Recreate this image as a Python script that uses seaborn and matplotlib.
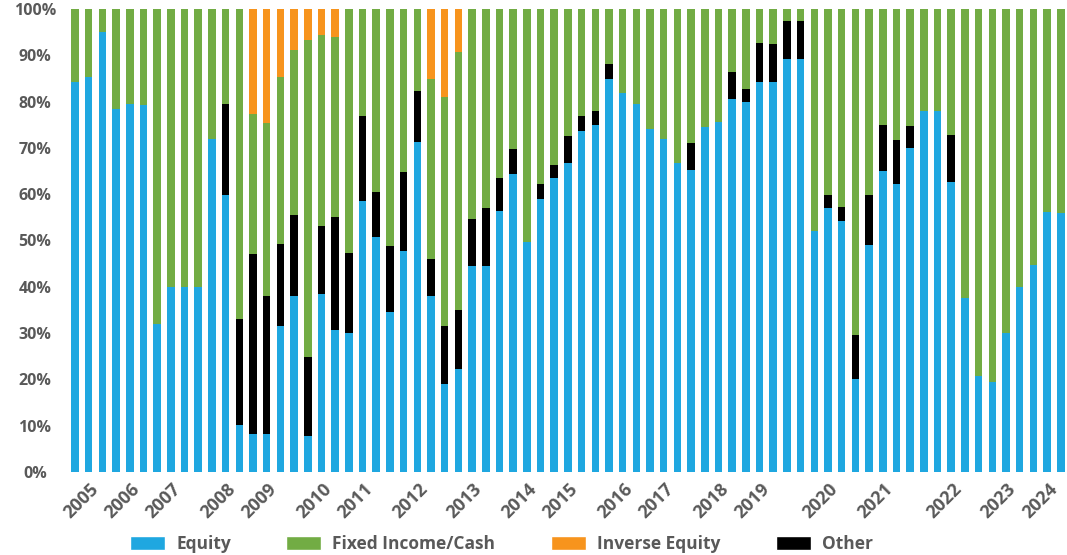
import matplotlib
matplotlib.use("Agg")
import matplotlib.pyplot as plt
from matplotlib.patches import Patch
import seaborn as sns
import numpy as np
import pandas as pd

# ---------------- data (percent of allocation) ----------------
equity = [84.3, 85.4, 95.1, 78.4, 79.5, 79.2, 31.9, 40.0, 40.0, 40.0,
          71.9, 59.8, 10.2, 8.2, 8.2, 31.5, 38.1, 7.8, 38.4, 30.7,
          30.0, 58.6, 50.8, 34.6, 47.7, 71.3, 38.1, 19.0, 22.2, 44.6,
          44.6, 56.3, 64.4, 49.7, 59.0, 63.6, 66.7, 73.7, 74.9, 84.9,
          81.9, 79.5, 74.1, 71.9, 66.7, 65.2, 74.5, 75.7, 80.6, 79.9,
          84.2, 84.2, 89.2, 89.2, 52.1, 57.0, 54.3, 20.0, 49.1, 65.0,
          62.1, 69.9, 78.0, 78.0, 62.6, 37.6, 20.8, 19.4, 30.0, 39.9,
          44.7, 56.2, 55.9]

other = [0, 0, 0, 0, 0, 0, 0, 0, 0, 0,
         0, 19.7, 22.8, 38.8, 29.9, 17.8, 17.4, 17.1, 14.7, 24.4,
         17.4, 18.2, 9.7, 14.3, 17.1, 11.0, 7.8, 12.5, 12.8, 10.1,
         12.5, 7.3, 5.4, 0, 3.1, 2.8, 5.9, 3.1, 3.1, 3.2,
         0, 0, 0, 0, 0, 5.8, 0, 0, 5.9, 2.8,
         8.5, 8.2, 8.2, 8.2, 0, 2.9, 2.9, 9.5, 10.7, 9.9,
         9.5, 4.9, 0, 0, 10.1, 0, 0, 0, 0, 0,
         0, 0, 0]

inverse_equity = [0, 0, 0, 0, 0, 0, 0, 0, 0, 0,
                  0, 0, 0, 22.7, 24.7, 14.6, 8.8, 6.8, 5.7, 6.1,
                  0, 0, 0, 0, 0, 0, 15.1, 18.9, 9.2, 0,
                  0, 0, 0, 0, 0, 0, 0, 0, 0, 0,
                  0, 0, 0, 0, 0, 0, 0, 0, 0, 0,
                  0, 0, 0, 0, 0, 0, 0, 0, 0, 0,
                  0, 0, 0, 0, 0, 0, 0, 0, 0, 0,
                  0, 0, 0]

# year label attached to the observation where it appears
year_label_bars = [2, 5, 8, 12, 15, 19, 22, 26, 30, 34, 37, 41, 44, 48, 51,
                   56, 60, 65, 69, 72]
year_labels = ["2005", "2006", "2007", "2008", "2009", "2010", "2011", "2012",
               "2013", "2014", "2015", "2016", "2017", "2018", "2019", "2020",
               "2021", "2022", "2023", "2024"]

series_names = ["Equity", "Fixed Income/Cash", "Inverse Equity", "Other"]

# ---------------- derived ----------------
eq = np.array(equity)
ot = np.array(other)
inv = np.array(inverse_equity)
fixed = 100.0 - eq - ot - inv
n = len(eq)
df = pd.DataFrame({
    "obs": np.arange(n),
    "equity": eq,
    "eq_other": eq + ot,
    "eq_other_fixed": eq + ot + fixed,
    "total": eq + ot + fixed + inv,
})

C_EQ = "#1FA7E0"
C_FI = "#72AC44"
C_INV = "#F7941D"
C_OT = "#000000"
TXT = "#595959"

sns.set_theme(style="white")
plt.rcParams["font.family"] = ["Open Sans", "DejaVu Sans"]

fig = plt.figure(figsize=(10.67, 5.55), dpi=100)
ax = fig.add_axes([67.5 / 1067, 83 / 555, 999.4 / 1067, 463 / 555])

W = 0.55
sns.barplot(data=df, x="obs", y="total", color=C_INV, width=W, ax=ax,
            saturation=1, linewidth=0, errorbar=None)
sns.barplot(data=df, x="obs", y="eq_other_fixed", color=C_FI, width=W, ax=ax,
            saturation=1, linewidth=0, errorbar=None)
sns.barplot(data=df, x="obs", y="eq_other", color=C_OT, width=W, ax=ax,
            saturation=1, linewidth=0, errorbar=None)
sns.barplot(data=df, x="obs", y="equity", color=C_EQ, width=W, ax=ax,
            saturation=1, linewidth=0, errorbar=None)

ax.set_xlim(-0.55, n - 0.55)
ax.set_ylim(0, 100)
ax.set_xlabel("")
ax.set_ylabel("")
sns.despine(ax=ax, left=True, bottom=True)

ax.set_yticks(np.arange(0, 101, 10))
ax.set_yticklabels([f"{v}%" for v in range(0, 101, 10)])
ax.tick_params(axis="y", length=0, pad=23.4, labelsize=11.5, labelcolor=TXT)
for lab in ax.get_yticklabels():
    lab.set_ha("center")
    lab.set_fontweight("bold")

ax.set_xticks(year_label_bars)
ax.set_xticklabels(year_labels, rotation=45, ha="right", va="top",
                   rotation_mode="default")
ax.tick_params(axis="x", length=0, pad=6, labelsize=13, labelcolor=TXT)
for lab in ax.get_xticklabels():
    lab.set_fontweight("bold")

handles = [Patch(facecolor=C_EQ), Patch(facecolor=C_FI),
           Patch(facecolor=C_INV), Patch(facecolor=C_OT)]
leg = fig.legend(handles, series_names, loc="center",
                 bbox_to_anchor=(0.470, 0.02), ncol=4, frameon=False,
                 handlelength=2.0, handleheight=0.8, handletextpad=0.65,
                 columnspacing=3.2, prop={"size": 12.5, "weight": "bold"},
                 labelcolor=TXT)

fig.savefig("out.png", dpi=100, facecolor="white")
